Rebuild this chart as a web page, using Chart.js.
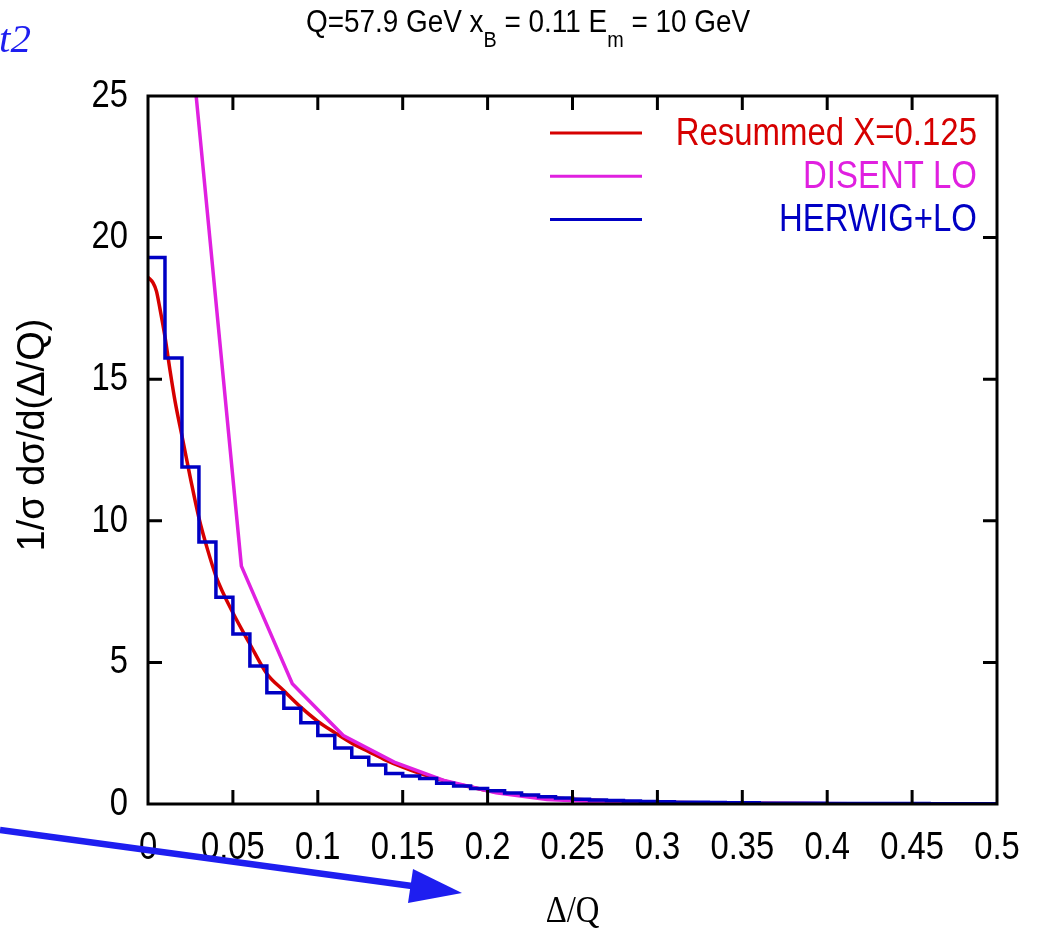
<!DOCTYPE html>
<html>
<head>
<meta charset="utf-8">
<script src="https://cdn.jsdelivr.net/npm/chart.js@4.4.1/dist/chart.umd.min.js"></script>
<style>
  html, body { margin: 0; padding: 0; background: #fff; }
  canvas { display: block; }
</style>
</head>
<body>
<canvas id="deltaQ" width="1043" height="933"></canvas>
<script>
// Δ/Q distribution: resummed curve, DISENT LO and the HERWIG+LO histogram

const resumX = [0, 0.003, 0.005, 0.007, 0.01, 0.013, 0.016, 0.02, 0.025, 0.03, 0.035, 0.04,
  0.05, 0.06, 0.07, 0.08, 0.09, 0.1, 0.11, 0.12, 0.13, 0.14, 0.15, 0.16, 0.17, 0.18, 0.19,
  0.2, 0.22, 0.24, 0.26, 0.28, 0.3, 0.35, 0.4, 0.45, 0.5];
const resumY = [18.6, 18.4, 18.1, 17.5, 16.5, 15.3, 14.2, 13.0, 11.5, 10.1, 9.0, 8.05,
  6.75, 5.65, 4.6, 4.0, 3.42, 2.92, 2.52, 2.15, 1.85, 1.55, 1.3, 1.08, 0.9, 0.73, 0.6,
  0.47, 0.32, 0.21, 0.14, 0.09, 0.06, 0.025, 0.01, 0.005, 0];

const disentX = [0.025, 0.055, 0.085, 0.115, 0.145, 0.175, 0.205, 0.235, 0.265, 0.295,
  0.325, 0.355, 0.385, 0.415, 0.445, 0.475, 0.5];
const disentY = [27.1, 8.4, 4.25, 2.42, 1.48, 0.82, 0.4, 0.16, 0.08, 0.05,
  0.03, 0.02, 0.015, 0.01, 0.01, 0.01, 0.01];

// histogram: bin edges and bin contents
const herwigEdges = [0, 0.01, 0.02, 0.03, 0.04, 0.05, 0.06, 0.07, 0.08, 0.09,
  0.1, 0.11, 0.12, 0.13, 0.14, 0.15, 0.16, 0.17, 0.18, 0.19,
  0.2, 0.21, 0.22, 0.23, 0.24, 0.25, 0.26, 0.27, 0.28, 0.29,
  0.3, 0.31, 0.32, 0.33, 0.34, 0.35, 0.36, 0.37, 0.38, 0.39,
  0.4, 0.41, 0.42, 0.43, 0.44, 0.45, 0.46, 0.47, 0.48, 0.49, 0.5];
const herwigY = [19.3, 15.75, 11.9, 9.25, 7.3, 6.0, 4.87, 3.93, 3.38, 2.87,
  2.42, 1.98, 1.65, 1.38, 1.08, 0.99, 0.9, 0.73, 0.64, 0.55,
  0.47, 0.39, 0.32, 0.26, 0.21, 0.17, 0.14, 0.12, 0.11, 0.09,
  0.08, 0.065, 0.06, 0.055, 0.045, 0.04, 0.03, 0.03, 0.025, 0.025,
  0.02, 0.02, 0.02, 0.015, 0.015, 0.015, 0.01, 0.01, 0.01, 0.01];

const xTicks = [0, 0.05, 0.1, 0.15, 0.2, 0.25, 0.3, 0.35, 0.4, 0.45, 0.5];
const xTickLabels = ['0', '0.05', '0.1', '0.15', '0.2', '0.25', '0.3', '0.35', '0.4', '0.45', '0.5'];
const yTicks = [0, 5, 10, 15, 20, 25];
const yTickLabels = ['0', '5', '10', '15', '20', '25'];

const seriesLabels = ['Resummed X=0.125', 'DISENT LO', 'HERWIG+LO'];
const seriesColors = ['#d60000', '#e020e0', '#0000c4'];

const titleParts = [['Q=57.9 GeV x', false], ['B', true], [' = 0.11 E', false], ['m', true], [' = 10 GeV', false]];
const xTitle = 'Δ/Q';
const yTitle = '1/σ dσ/d(Δ/Q)';

const SANS = '"Liberation Sans", Arial, sans-serif';
const SERIF = '"Liberation Serif", "DejaVu Serif", serif';

const herwigPoints = herwigEdges.map((x, i) => ({ x, y: herwigY[Math.min(i, herwigY.length - 1)] }));

// text squeezed horizontally (the gnuplot fonts are narrow)
function narrowText(ctx, text, x, y, sx, align) {
  ctx.save();
  ctx.translate(x, y);
  ctx.scale(sx, 1);
  ctx.textAlign = align;
  ctx.fillText(text, 0, 0);
  ctx.restore();
}

// box frame with inward ticks on all four sides
const frame = {
  id: 'frame',
  afterDatasetsDraw(chart) {
    const { ctx, chartArea: a, scales: { x, y } } = chart;
    const len = 14;
    ctx.save();
    ctx.strokeStyle = '#000';
    ctx.lineWidth = 3;
    ctx.beginPath();
    x.ticks.forEach(t => {
      const px = x.getPixelForValue(t.value);
      if (px <= a.left + 1 || px >= a.right - 1) return;
      ctx.moveTo(px, a.bottom); ctx.lineTo(px, a.bottom - len);
      ctx.moveTo(px, a.top); ctx.lineTo(px, a.top + len);
    });
    y.ticks.forEach(t => {
      const py = y.getPixelForValue(t.value);
      if (py <= a.top + 1 || py >= a.bottom - 1) return;
      ctx.moveTo(a.left, py); ctx.lineTo(a.left + len, py);
      ctx.moveTo(a.right, py); ctx.lineTo(a.right - len, py);
    });
    ctx.stroke();
    ctx.strokeRect(a.left, a.top, a.width, a.height);
    ctx.restore();
  }
};

// tick labels and axis titles
const axisText = {
  id: 'axisText',
  afterDraw(chart) {
    const { ctx, chartArea: a, scales: { x, y } } = chart;
    ctx.save();
    ctx.fillStyle = '#000';
    ctx.textBaseline = 'middle';
    ctx.font = '39px ' + SANS;
    x.ticks.forEach((t, i) => {
      narrowText(ctx, xTickLabels[i], x.getPixelForValue(t.value), 848, 0.84, 'center');
    });
    y.ticks.forEach((t, i) => {
      narrowText(ctx, yTickLabels[i], a.left - 20, y.getPixelForValue(t.value), 0.84, 'right');
    });

    ctx.font = '38px ' + SERIF;
    narrowText(ctx, xTitle, (a.left + a.right) / 2, 912, 0.86, 'center');

    ctx.font = '38px ' + SANS;
    ctx.save();
    ctx.translate(34, 435);
    ctx.rotate(-Math.PI / 2);
    ctx.textAlign = 'center';
    ctx.fillText(yTitle, 0, 0);
    ctx.restore();
    ctx.restore();
  }
};

// legend: line sample on the left, label right-aligned
const keyBox = {
  id: 'keyBox',
  afterDraw(chart) {
    const { ctx, chartArea: a } = chart;
    ctx.save();
    ctx.font = '39px ' + SANS;
    ctx.textBaseline = 'middle';
    chart.data.datasets.forEach((ds, i) => {
      const yy = a.top + 37 + i * 43.3;
      ctx.strokeStyle = ds.borderColor;
      ctx.lineWidth = 3;
      ctx.beginPath();
      ctx.moveTo(550, yy); ctx.lineTo(642, yy);
      ctx.stroke();
      ctx.fillStyle = ds.borderColor;
      narrowText(ctx, ds.label, a.right - 20, yy + 1, 0.845, 'right');
    });
    ctx.restore();
  }
};

// heading with subscripts, plus the blue slide marks
const heading = {
  id: 'heading',
  afterDraw(chart) {
    const { ctx } = chart;
    const sx = 0.9;
    ctx.save();
    const big = '31px ' + SANS, small = '22px ' + SANS;
    let total = 0;
    titleParts.forEach(([t, sub]) => { ctx.font = sub ? small : big; total += ctx.measureText(t).width * sx; });
    let x = 528 - total / 2;
    ctx.fillStyle = '#000';
    ctx.textBaseline = 'alphabetic';
    titleParts.forEach(([t, sub]) => {
      ctx.font = sub ? small : big;
      narrowText(ctx, t, x, sub ? 47 : 32, sx, 'left');
      x += ctx.measureText(t).width * sx;
    });

    ctx.fillStyle = '#1e1ef0';
    ctx.font = 'italic 41px ' + SERIF;
    ctx.textAlign = 'left';
    ctx.fillText('t2', -1, 52);

    ctx.strokeStyle = '#1e1ef0';
    ctx.lineWidth = 6.5;
    ctx.beginPath();
    ctx.moveTo(0, 830); ctx.lineTo(412, 886);
    ctx.stroke();
    ctx.beginPath();
    ctx.moveTo(462, 893); ctx.lineTo(413, 869); ctx.lineTo(408, 903);
    ctx.closePath();
    ctx.fill();
    ctx.restore();
  }
};

new Chart(document.getElementById('deltaQ'), {
  type: 'line',
  data: {
    datasets: [
      {
        label: seriesLabels[0],
        data: resumX.map((x, i) => ({ x, y: resumY[i] })),
        borderColor: seriesColors[0],
        borderWidth: 3.5,
        pointRadius: 0,
        cubicInterpolationMode: 'monotone',
        order: 2,
      },
      {
        label: seriesLabels[1],
        data: disentX.map((x, i) => ({ x, y: disentY[i] })),
        borderColor: seriesColors[1],
        borderWidth: 3.5,
        pointRadius: 0,
        tension: 0,
        order: 1,
      },
      {
        label: seriesLabels[2],
        data: herwigPoints,
        borderColor: seriesColors[2],
        borderWidth: 3.5,
        pointRadius: 0,
        stepped: true,
        order: 0,
      },
    ],
  },
  options: {
    responsive: false,
    animation: false,
    layout: { padding: { top: 96, right: 46, left: 0, bottom: 0 } },
    plugins: {
      legend: { display: false },
      tooltip: { enabled: false },
    },
    scales: {
      x: {
        type: 'linear',
        min: 0,
        max: 0.5,
        afterBuildTicks: s => { s.ticks = xTicks.map(v => ({ value: v })); },
        afterFit: s => { s.height = 129; },
        grid: { display: false, drawTicks: false },
        border: { display: false },
        ticks: { display: false },
      },
      y: {
        min: 0,
        max: 25,
        afterBuildTicks: s => { s.ticks = yTicks.map(v => ({ value: v })); },
        afterFit: s => { s.width = 148; },
        grid: { display: false, drawTicks: false },
        border: { display: false },
        ticks: { display: false },
      },
    },
  },
  plugins: [frame, axisText, keyBox, heading],
});
</script>
</body>
</html>
